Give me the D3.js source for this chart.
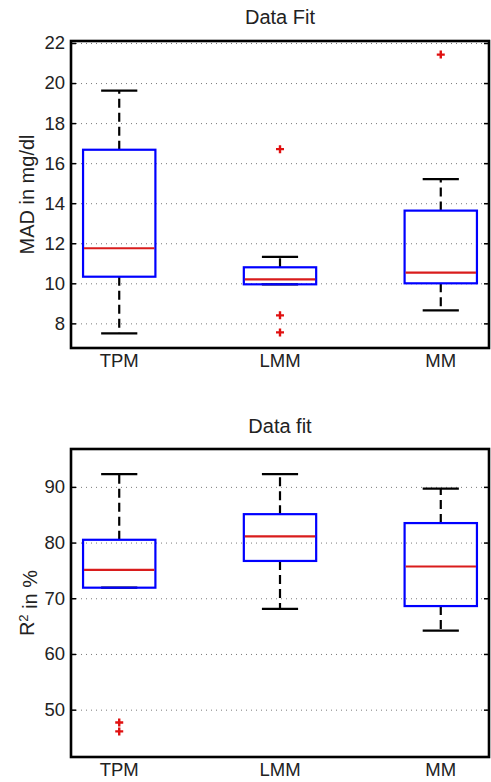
<!DOCTYPE html>
<html><head><meta charset="utf-8">
<script src="https://cdn.jsdelivr.net/npm/d3@7"></script>
<style>
html,body{margin:0;padding:0;background:#fff;}
text{font-family:"Liberation Sans",Arial,Helvetica,sans-serif;fill:#222;}
</style></head>
<body>
<svg id="chart" width="491" height="782"></svg>
<script>
const categories = ["TPM", "LMM", "MM"];

// Panel 1: MAD in mg/dl
const madWhiskerLow  = [7.5, 9.95, 8.65];
const madQ1          = [10.33, 9.95, 10.0];
const madMedian      = [11.75, 10.2, 10.53];
const madQ3          = [16.67, 10.8, 13.63];
const madWhiskerHigh = [19.62, 11.32, 15.2];
const madOutliers    = [[], [16.7, 8.4, 7.55], [21.42]];
const madTicks       = [8, 10, 12, 14, 16, 18, 20, 22];

// Panel 2: R^2 in %
const r2WhiskerLow  = [71.9, 68.1, 64.2];
const r2Q1          = [71.9, 76.7, 68.6];
const r2Median      = [75.1, 81.1, 75.7];
const r2Q3          = [80.5, 85.1, 83.5];
const r2WhiskerHigh = [92.3, 92.3, 89.7];
const r2Outliers    = [[47.7, 46.1], [], []];
const r2Ticks       = [50, 60, 70, 80, 90];

const svg = d3.select("#chart");

function panel(cfg) {
  const L = 71, R = 489, T = cfg.top, B = cfg.bottom;
  const x = d3.scaleLinear().domain([0.7, 3.3]).range([L, R]);
  const y = d3.scaleLinear().domain(cfg.domain).range([B, T]);
  const g = svg.append("g");

  // grid
  const grid = g.append("g").attr("transform", `translate(${L},0)`)
    .call(d3.axisLeft(y).tickValues(cfg.ticks).tickSize(-(R - L)).tickFormat(""));
  grid.select(".domain").remove();
  grid.selectAll("line").attr("stroke", "#7a7a7a").attr("stroke-width", 1).attr("stroke-dasharray", "1,4");

  // left axis ticks + labels
  const ax = g.append("g").attr("transform", `translate(${L},0)`)
    .call(d3.axisLeft(y).tickValues(cfg.ticks).tickSize(-5).tickPadding(6));
  ax.select(".domain").remove();
  ax.selectAll("line").attr("stroke", "#000").attr("stroke-width", 1.5);
  ax.selectAll("text").style("font-size", "18.5px").style("fill", "#222")
    .style("font-family", '"Liberation Sans",Arial,sans-serif');

  const axr = g.append("g").attr("transform", `translate(${R},0)`)
    .call(d3.axisRight(y).tickValues(cfg.ticks).tickSize(-5).tickFormat(""));
  axr.select(".domain").remove();
  axr.selectAll("line").attr("stroke", "#000").attr("stroke-width", 1.5);

  const boxHalf = (x(1.225) - x(1)), capHalf = boxHalf / 2;
  categories.forEach((c, i) => {
    const cx = x(i + 1);
    // whiskers
    g.append("line").attr("x1", cx).attr("x2", cx)
      .attr("y1", y(cfg.q3[i])).attr("y2", y(cfg.wh[i]))
      .attr("stroke", "#000").attr("stroke-width", 2.2).attr("stroke-dasharray", "9,5");
    g.append("line").attr("x1", cx).attr("x2", cx)
      .attr("y1", y(cfg.q1[i])).attr("y2", y(cfg.wl[i]))
      .attr("stroke", "#000").attr("stroke-width", 2.2).attr("stroke-dasharray", "9,5");
    [cfg.wh[i], cfg.wl[i]].forEach(v => {
      g.append("line").attr("x1", cx - capHalf).attr("x2", cx + capHalf)
        .attr("y1", y(v)).attr("y2", y(v)).attr("stroke", "#000").attr("stroke-width", 2.2);
    });
    // box
    g.append("rect").attr("x", cx - boxHalf).attr("width", 2 * boxHalf)
      .attr("y", y(cfg.q3[i])).attr("height", y(cfg.q1[i]) - y(cfg.q3[i]))
      .attr("fill", "none").attr("stroke", "#0000ff").attr("stroke-width", 2.2);
    // median
    g.append("line").attr("x1", cx - boxHalf + 1).attr("x2", cx + boxHalf - 1)
      .attr("y1", y(cfg.med[i])).attr("y2", y(cfg.med[i]))
      .attr("stroke", "#d91c1c").attr("stroke-width", 2.2);
    // outliers
    cfg.out[i].forEach(v => {
      const py = y(v);
      g.append("path").attr("d", `M${cx - 4},${py}H${cx + 4}M${cx},${py - 4}V${py + 4}`)
        .attr("stroke", "#e01010").attr("stroke-width", 2.4).attr("fill", "none");
    });
    // category label
    g.append("text").attr("x", cx).attr("y", B + 19).attr("text-anchor", "middle")
      .style("font-size", "18.5px").text(c);
  });

  // frame
  g.append("rect").attr("x", L).attr("y", T).attr("width", R - L).attr("height", B - T)
    .attr("fill", "none").attr("stroke", "#000").attr("stroke-width", 2.6);

  // title
  g.append("text").attr("x", (L + R) / 2).attr("y", cfg.titleY).attr("text-anchor", "middle")
    .style("font-size", "20px").text(cfg.title);

  // y label
  const yl = g.append("text").attr("transform", `translate(34,${(T + B) / 2}) rotate(-90)`)
    .attr("text-anchor", "middle").style("font-size", "20px");
  cfg.ylabel(yl);
}

panel({
  top: 41, bottom: 348, domain: [6.77, 22.1], ticks: madTicks,
  wl: madWhiskerLow, q1: madQ1, med: madMedian, q3: madQ3, wh: madWhiskerHigh, out: madOutliers,
  title: "Data Fit", titleY: 24,
  ylabel: t => t.text("MAD in mg/dl")
});

panel({
  top: 449, bottom: 757, domain: [41.5, 96.8], ticks: r2Ticks,
  wl: r2WhiskerLow, q1: r2Q1, med: r2Median, q3: r2Q3, wh: r2WhiskerHigh, out: r2Outliers,
  title: "Data fit", titleY: 433,
  ylabel: t => {
    t.append("tspan").text("R");
    t.append("tspan").attr("dy", "-0.45em").style("font-size", "13px").text("2");
    t.append("tspan").attr("dy", "0.45em").text(" in %");
  }
});
</script>
</body></html>
